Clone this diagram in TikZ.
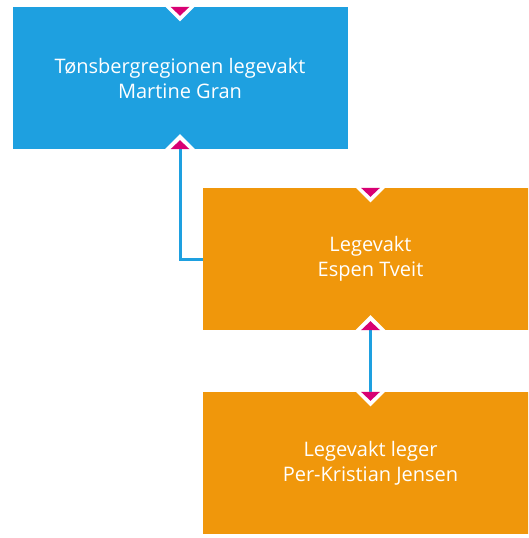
\documentclass[tikz,border=0pt]{standalone}
\usepackage{fontspec}
\setmainfont{Open Sans}
\usetikzlibrary{calc}
\definecolor{boxblue}{HTML}{1EA0E0}
\definecolor{boxorange}{HTML}{F0970B}
\definecolor{tipmag}{HTML}{D80073}
\tikzset{
  unitbox/.style={minimum width=335pt, minimum height=142pt, inner sep=0pt, align=center,
    text=white, font=\fontsize{20}{25}\selectfont},
  bluebox/.style={unitbox, fill=boxblue},
  orangebox/.style={unitbox, fill=boxorange},
  link/.style={draw=boxblue, line width=3pt},
  gapfill/.style={fill=white},
  tipfill/.style={fill=tipmag},
}
\newcommand\notchdown[1]{%
  \fill[gapfill] ($(#1)+(-14.5,0)$) -- ($(#1)+(14.5,0)$) -- ($(#1)+(0,14.5)$) -- cycle;
  \fill[tipfill] ($(#1)+(-9.5,0)$) -- ($(#1)+(9.5,0)$) -- ($(#1)+(0,9)$) -- cycle;}
\newcommand\notchupwhite[1]{%
  \fill[gapfill] ($(#1)+(-15,0)$) -- ($(#1)+(15,0)$) -- ($(#1)+(0,-15)$) -- cycle;}
\newcommand\notchuptip[1]{%
  \fill[tipfill] ($(#1)+(-9.5,0)$) -- ($(#1)+(9.5,0)$) -- ($(#1)+(0,-9)$) -- cycle;}
\begin{document}
\begin{tikzpicture}[x=1pt,y=-1pt]
\useasboundingbox (0,0) rectangle (528,538);
\clip (0,0) rectangle (528,538);
\node[bluebox] (a) at (180,78) {Tønsbergregionen legevakt\\Martine Gran};
\node[orangebox] (b) at (370.5,259) {Legevakt\\Espen Tveit};
\node[orangebox] (c) at (370.5,463) {Legevakt leger\\Per-Kristian Jensen};
\notchdown{a.north}
\notchupwhite{a.south}
\notchdown{b.north}
\notchupwhite{b.south}
\draw[link] (a.south) |- (b.west);
\draw[link] (b.south) -- (c.north);
\notchdown{c.north}
\notchuptip{a.south}
\notchuptip{b.south}
\end{tikzpicture}
\end{document}
